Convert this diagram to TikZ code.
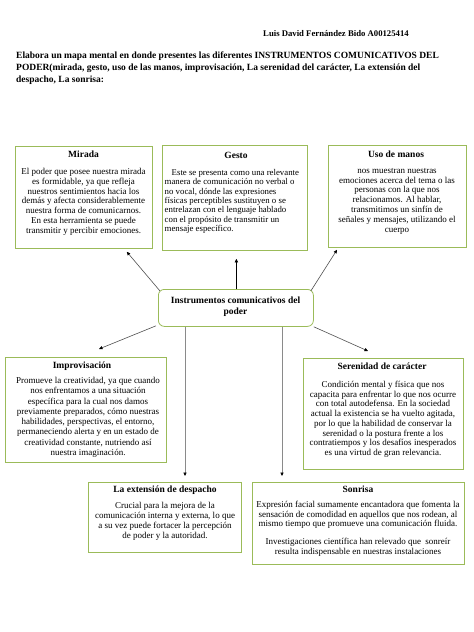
\documentclass[tikz,border=0pt]{standalone}
\usepackage{fontspec}
\setmainfont{Liberation Serif}
\usetikzlibrary{arrows.meta,calc}
\definecolor{boxgreen}{HTML}{9BBB59}
\definecolor{linkgray}{HTML}{505050}
\definecolor{vgray}{HTML}{8A8A8A}
\begin{document}
\begin{tikzpicture}[x=1pt,y=-1pt,
  box/.style={draw=boxgreen, line width=0.8pt, fill=white, inner sep=0pt, anchor=north west},
  boxtitle/.style={font=\bfseries\fontsize{9.5}{11}\selectfont, inner sep=0pt, anchor=base},
  boxbody/.style={font=\fontsize{9}{9.8}\selectfont, align=center, inner sep=0pt, anchor=north},
  link/.style={draw=linkgray, line width=0.6pt, -{Triangle[length=3.5pt,width=3.2pt,color=black]}},
  vlink/.style={link, draw=vgray}]
\useasboundingbox (0,0) rectangle (474,632);
\fill[white] (0,0) rectangle (474,632);

% header
\node[font=\bfseries\fontsize{8.7}{10}\selectfont, inner sep=0pt, anchor=base west] (author) at (263,36.5) {Luis David Fernández Bido A00125414};
\node[font=\bfseries\fontsize{9.5}{11.7}\selectfont, inner sep=0pt, anchor=north west, align=left] (task) at (16,52)
 {Elabora un mapa mental en donde presentes las diferentes INSTRUMENTOS COMUNICATIVOS DEL\\
  PODER(mirada, gesto, uso de las manos, improvisación, La serenidad del carácter, La extensión del\\
  despacho, La sonrisa:};

% boxes
\node[box, minimum width=137pt, minimum height=102pt] (mirada) at (15,146) {};
\node[box, minimum width=145pt, minimum height=105pt] (gesto) at (162,145) {};
\node[box, minimum width=138pt, minimum height=102pt] (uso) at (328,145) {};
\node[box, rounded corners=6pt, minimum width=155pt, minimum height=37pt] (hub) at (158,289) {};
\node[box, minimum width=161pt, minimum height=105pt] (improv) at (5,357) {};
\node[box, minimum width=160pt, minimum height=111pt] (seren) at (303,358) {};
\node[box, minimum width=153pt, minimum height=70pt] (ext) at (88,482) {};
\node[box, minimum width=212pt, minimum height=82pt] (son) at (252,482) {};

% texts
\node[boxtitle] (mirada-t) at (83.5,157.5) {Mirada};
\node[boxbody] (mirada-b) at (83.5,168) {El poder que posee nuestra mirada\\es formidable, ya que refleja\\nuestros sentimientos hacia los\\demás y afecta considerablemente\\nuestra forma de comunicarnos.\\En esta herramienta se puede\\transmitir y percibir emociones.};

\node[boxtitle] (gesto-t) at (236,158.5) {Gesto};
\node[boxbody, align=left, anchor=north west, font=\fontsize{8.8}{9.4}\selectfont] (gesto-b) at (164.5,169) {\hspace*{7pt}Este se presenta como una relevante\\manera de comunicación no verbal o\\no vocal, dónde las expresiones\\físicas perceptibles sustituyen o se\\entrelazan con el lenguaje hablado\\con el propósito de transmitir un\\mensaje específico.};

\node[boxtitle] (uso-t) at (396,157.5) {Uso de manos};
\node[boxbody] (uso-b) at (397,168) {nos muestran nuestras\\emociones acerca del tema o las\\personas con la que nos\\relacionamos. Al hablar,\\transmitimos un sinfín de\\señales y mensajes, utilizando el\\cuerpo};

\node[boxbody, font=\bfseries\fontsize{9.5}{11.3}\selectfont] (hub-t) at (235.5,296.5) {Instrumentos comunicativos del\\poder};

\node[boxtitle] (improv-t) at (82,368.5) {Improvisación};
\node[boxbody, font=\fontsize{9}{10.3}\selectfont] (improv-b) at (88,377) {Promueve la creatividad, ya que cuando\\nos enfrentamos a una situación\\específica para la cual nos damos\\previamente preparados, cómo nuestras\\habilidades, perspectivas, el entorno,\\permaneciendo alerta y en un estado de\\creatividad constante, nutriendo así\\nuestra imaginación.};

\node[boxtitle] (seren-t) at (382,369.5) {Serenidad de carácter};
\node[boxbody, font=\fontsize{9}{9.7}\selectfont] (seren-b) at (383,381) {Condición mental y física que nos\\capacita para enfrentar lo que nos ocurre\\con total autodefensa. En la sociedad\\actual la existencia se ha vuelto agitada,\\por lo que la habilidad de conservar la\\serenidad o la postura frente a los\\contratiempos y los desafíos inesperados\\es una virtud de gran relevancia.};

\node[boxtitle] (ext-t) at (165,492.5) {La extensión de despacho};
\node[boxbody, font=\fontsize{9}{10}\selectfont] (ext-b) at (165,502.5) {Crucial para la mejora de la\\comunicación interna y externa, lo que\\a su vez puede fortacer la percepción\\de poder y la autoridad.};

\node[boxtitle] (son-t) at (358,492.5) {Sonrisa};
\node[boxbody, font=\fontsize{9}{9.5}\selectfont] (son-b) at (358,501) {Expresión facial sumamente encantadora que fomenta la\\sensación de comodidad en aquellos que nos rodean, al\\mismo tiempo que promueve una comunicación fluida.\\[8.5pt]Investigaciones científica han relevado que~ sonreír\\resulta indispensable en nuestras instalaciones};

% connectors
\coordinate (mirada-tip) at ($(mirada.south east)+(-26,3)$);
\coordinate (gesto-tip) at ($(gesto.south)+(1.5,8)$);
\coordinate (uso-tip) at ($(uso.south west)+(9,2)$);
\coordinate (improv-tip) at ($(improv.north west)+(94,-8)$);
\coordinate (seren-tip) at ($(seren.north west)+(65,-7)$);
\coordinate (ext-tip) at ($(ext.north west)+(97,-6)$);
\coordinate (son-tip) at ($(son.north west)+(30,-6)$);

\draw[link] ($(hub.north west)+(2,2)$) -- (mirada-tip);
\draw[link, draw=black] (hub.north -| gesto-tip) -- (gesto-tip);
\draw[link] ($(hub.north east)+(-3,2)$) -- (uso-tip);
\draw[link] ($(hub.south west)+(-2,-1)$) -- (improv-tip);
\draw[link] (hub.south east) -- (seren-tip);
\draw[vlink] (hub.south -| ext-tip) -- (ext-tip);
\draw[vlink] (hub.south -| son-tip) -- (son-tip);
\end{tikzpicture}
\end{document}
